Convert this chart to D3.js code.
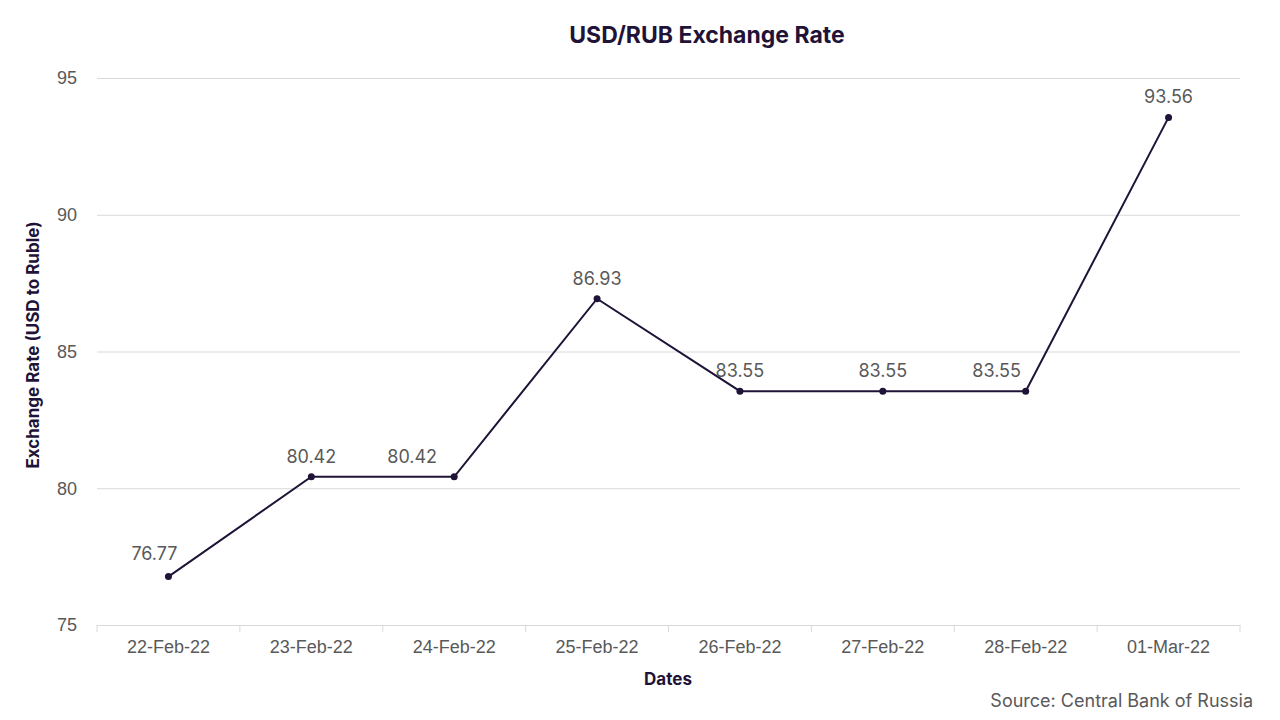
<!DOCTYPE html>
<html>
<head>
<meta charset="utf-8">
<script src="https://cdn.jsdelivr.net/npm/d3@7"></script>
<style>
  body { margin: 0; background: #fff; }
  svg { font-family: "Inter", "Noto Sans", sans-serif; }
</style>
</head>
<body>
<svg width="1280" height="720"></svg>
<script>
// Chart data
var dates = ['22-Feb-22', '23-Feb-22', '24-Feb-22', '25-Feb-22', '26-Feb-22', '27-Feb-22', '28-Feb-22', '01-Mar-22']
var rates = [76.77, 80.42, 80.42, 86.93, 83.55, 83.55, 83.55, 93.56]
var yTicks = [75, 80, 85, 90, 95]

// label nudges (px) so labels clear the line, as in the original
var labelShift = [-14, 0, -42, 0, 0, 0, -29, 0]

var navy = '#1f1338'
var grey = '#595959'

var svg = d3.select('svg')
var margin = { left: 97, right: 40, top: 78, bottom: 95 }
var width = 1280 - margin.left - margin.right
var height = 720 - margin.top - margin.bottom

var x = d3.scaleBand().domain(dates).range([0, width])
var y = d3.scaleLinear().domain([75, 95]).range([height, 0])

var g = svg.append('g').attr('transform', 'translate(' + margin.left + ',' + margin.top + ')')

// gridlines + y labels
var yAxis = g.append('g')
  .call(d3.axisLeft(y).tickValues(yTicks).tickSize(-width).tickFormat(d3.format('d')))
yAxis.select('.domain').remove()
yAxis.selectAll('.tick line').attr('stroke', '#d9d9d9')
yAxis.selectAll('.tick text')
  .attr('x', -20).attr('fill', grey)
  .style('font-size', '18px')

// x axis
var xAxis = g.append('g')
  .attr('transform', 'translate(0,' + height + ')')
  .call(d3.axisBottom(x).tickSize(0).tickPadding(15))
xAxis.select('.domain').attr('stroke', '#d9d9d9')
xAxis.selectAll('.tick text').attr('fill', grey).style('font-size', '18px')

// tick marks at the band edges
g.append('g')
  .selectAll('line')
  .data(dates.concat(['end']))
  .enter()
  .append('line')
  .attr('x1', (d, i) => i < dates.length ? x(d) : width)
  .attr('x2', (d, i) => i < dates.length ? x(d) : width)
  .attr('y1', height)
  .attr('y2', height + 7)
  .attr('stroke', '#d9d9d9')

// the line
var cx = d => x(d) + x.bandwidth() / 2
g.append('path')
  .datum(rates)
  .attr('fill', 'none')
  .attr('stroke', navy)
  .attr('stroke-width', 2)
  .attr('d', d3.line().x((d, i) => cx(dates[i])).y(d => y(d)))

g.selectAll('circle')
  .data(rates)
  .enter()
  .append('circle')
  .attr('cx', (d, i) => cx(dates[i]))
  .attr('cy', d => y(d))
  .attr('r', 3.5)
  .attr('fill', navy)

// value labels
g.selectAll('.val')
  .data(rates)
  .enter()
  .append('text')
  .attr('class', 'val')
  .attr('x', (d, i) => cx(dates[i]) + labelShift[i])
  .attr('y', (d, i) => y(d) - (i === 0 ? 17 : 14))
  .attr('text-anchor', 'middle')
  .attr('fill', grey)
  .style('font-size', '18px')
  .text(d => d.toFixed(2))

// title and axis titles
svg.append('text')
  .attr('x', 707).attr('y', 43)
  .attr('text-anchor', 'middle')
  .attr('fill', navy)
  .style('font-size', '23px').style('font-weight', 'bold')
  .text('USD/RUB Exchange Rate')

svg.append('text')
  .attr('x', 668).attr('y', 685)
  .attr('text-anchor', 'middle')
  .attr('fill', navy)
  .style('font-size', '17px').style('font-weight', 'bold')
  .text('Dates')

svg.append('text')
  .attr('transform', 'translate(39,345) rotate(-90)')
  .attr('text-anchor', 'middle')
  .attr('fill', navy)
  .style('font-size', '17px').style('font-weight', 'bold')
  .text('Exchange Rate (USD to Ruble)')

svg.append('text')
  .attr('x', 1253).attr('y', 707)
  .attr('text-anchor', 'end')
  .attr('fill', grey)
  .style('font-size', '18px')
  .text('Source: Central Bank of Russia')
</script>
</body>
</html>
